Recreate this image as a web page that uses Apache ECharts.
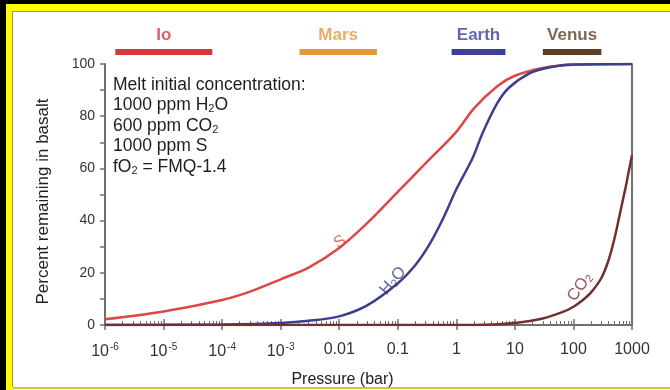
<!DOCTYPE html>
<html><head><meta charset="utf-8">
<script src="https://cdn.jsdelivr.net/npm/echarts@6/dist/echarts.min.js"></script>
<style>html,body{margin:0;padding:0;background:#fff}#c{width:670px;height:390px}</style>
</head><body><div id="c"></div>
<script>
// ---- data ----
const pressureS = [1e-6, 1e-5, 1e-4, 3e-4, 1e-3, 0.003, 0.01, 0.03, 0.1, 0.3, 1, 2, 5, 10, 30, 100, 1000];
const valuesS   = [2.2, 5.2, 9.6, 12.8, 17.5, 22, 29.5, 39, 51, 62, 74, 83, 91.5, 95.5, 98.5, 99.7, 100];

const pressureH2O = [1e-6, 1e-5, 1e-4, 1e-3, 0.003, 0.01, 0.03, 0.1, 0.2, 0.35, 0.6, 1, 1.9, 2.8, 5, 8, 18, 35, 90, 1000];
const valuesH2O   = [0, 0.05, 0.2, 0.8, 1.6, 3.3, 7.5, 16, 23, 31, 41, 52, 64, 73.5, 85, 91, 96.5, 98.5, 99.8, 100];

const pressureCO2 = [1e-6, 1e-3, 1, 3, 10, 30, 66, 100, 145, 200, 300, 400, 500, 600, 700, 800, 900, 1000];
const valuesCO2   = [0, 0, 0, 0.1, 0.8, 2.5, 5, 7, 9.6, 12.5, 18, 25, 33, 41, 48, 54, 60, 65];

const planetNames = ['Io', 'Mars', 'Earth', 'Venus'];
const planetFrom  = [1.5e-6, 2.1e-3, 0.83, 30];
const planetTo    = [6.8e-5, 0.044, 6.9, 300];

const xTickLabels = ['10^-6', '10^-5', '10^-4', '10^-3', '0.01', '0.1', '1', '10', '100', '1000'];
const yTickValues = [0, 20, 40, 60, 80, 100];

// curve label anchors [pressure, percent, text]
const curveLabels = [
  [0.0103, 31.8, '{t|S}'],
  [0.083, 16.9, '{t|H}{s|2}{t|O}'],
  [129, 14.6, '{t|CO}{s|2}']
];
const noteLines = [
  '{t|Melt initial concentration:}',
  '{t|1000 ppm H}{s|2}{t|O}',
  '{t|600 ppm CO}{s|2}',
  '{t|1000 ppm S}',
  '{t|fO}{s|2}{t| = FMQ-1.4}'
];

// ---- styles ----
const FONT = '"Liberation Sans", Arial, Helvetica, sans-serif';
const colS = '#dd4744', colH2O = '#3b3f8e', colCO2 = '#73302e';
const planetColors = ['#d9363c', '#e8963c', '#3d3f9c', '#5e3f24'];
const axisCol = '#707070';

const minorTicks = [];
for (let d = -6; d < 3; d++) for (let m = 2; m <= 9; m++) minorTicks.push(m * Math.pow(10, d));

function zip(xs, ys) { return xs.map((x, i) => [x, ys[i]]); }

const chart = echarts.init(document.getElementById('c'), null, {renderer: 'canvas'});

const lineBase = {type: 'line', xAxisIndex: 0, yAxisIndex: 0, smooth: 0.3, symbol: 'none', z: 3};
const series = [
  Object.assign({}, lineBase, {data: zip(pressureS, valuesS), lineStyle: {color: colS, width: 2.5}}),
  Object.assign({}, lineBase, {data: zip(pressureH2O, valuesH2O), lineStyle: {color: colH2O, width: 2.5}}),
  Object.assign({}, lineBase, {data: zip(pressureCO2, valuesCO2), lineStyle: {color: colCO2, width: 2.5}}),
  {type: 'scatter', xAxisIndex: 0, yAxisIndex: 0, symbolSize: 0, silent: true, z: 5,
   data: curveLabels.map((c, i) => ({
     value: [c[0], c[1]],
     label: {show: true, position: 'inside', formatter: c[2], rotate: [32, 50, 55][i],
       rich: {t: {fontSize: 16.5, fontFamily: FONT, color: [colS, colH2O, colCO2][i]},
              s: {fontSize: 11, fontFamily: FONT, color: [colS, colH2O, colCO2][i], padding: [7, 0, 0, 0]}}}
   }))}
];
planetNames.forEach((n, i) => {
  series.push({type: 'line', xAxisIndex: 3, yAxisIndex: 2, symbol: 'none', silent: true,
    data: [[planetFrom[i], 0.5], [planetTo[i], 0.5]],
    lineStyle: {color: planetColors[i], width: 6, cap: 'butt'}});
  series.push({type: 'scatter', xAxisIndex: 3, yAxisIndex: 2, symbolSize: 0, silent: true,
    data: [[Math.sqrt(planetFrom[i] * planetTo[i]), 0.5]],
    label: {show: true, position: 'top', distance: 8, formatter: n,
      fontSize: 17, fontFamily: FONT, color: planetColors[i], fontWeight: 'bold'}});
});

const option = {
  backgroundColor: '#ffffff',
  animation: false,
  grid: [
    {left: 105, right: 38, top: 64, bottom: 65, outerBoundsMode: 'none', containLabel: false},
    {left: 105, right: 38, top: 40, height: 24, outerBoundsMode: 'none', containLabel: false}
  ],
  xAxis: [
    {type: 'log', logBase: 10, min: 1e-6, max: 1000, splitNumber: 10, gridIndex: 0, position: 'bottom',
     name: 'Pressure (bar)', nameLocation: 'middle', nameGap: 47,
     nameTextStyle: {fontSize: 16, fontFamily: FONT, color: '#222', padding: [0, 52, 0, 0]},
     axisLine: {show: true, lineStyle: {color: axisCol, width: 2}},
     axisTick: {show: true, inside: true, length: 6, lineStyle: {color: axisCol, width: 1.5}},
     splitLine: {show: false}, minorTick: {show: false},
     axisLabel: {margin: 17, color: '#333',
       formatter: v => {
         const s = xTickLabels[Math.round(Math.log10(v)) + 6] || '';
         const p = s.split('^');
         return p.length > 1 ? '{b|' + p[0] + '}{e|' + p[1] + '}' : '{b|' + s + '}';
       },
       rich: {b: {fontSize: 16, fontFamily: FONT, color: '#333'},
              e: {fontSize: 10, fontFamily: FONT, color: '#333', padding: [0, 0, 10, 1]}}}},
    {type: 'log', logBase: 10, min: 1e-6, max: 1000, splitNumber: 10, gridIndex: 0, position: 'top',
     axisLine: {show: true, lineStyle: {color: axisCol, width: 2}},
     axisTick: {show: true, inside: true, length: 5, lineStyle: {color: axisCol, width: 1.5}},
     axisLabel: {show: false}, splitLine: {show: false}},
    {type: 'log', logBase: 10, min: 1e-6, max: 1000, gridIndex: 0, position: 'bottom',
     axisLine: {show: false},
     axisTick: {show: true, inside: true, length: 4, customValues: minorTicks,
       lineStyle: {color: axisCol, width: 1}},
     axisLabel: {show: false}, splitLine: {show: false}},
    {type: 'log', logBase: 10, min: 1e-6, max: 1000, gridIndex: 1, show: false}
  ],
  yAxis: [
    {type: 'value', min: 0, max: 100, interval: 20, gridIndex: 0, position: 'left',
     name: 'Percent remaining in basalt', nameLocation: 'middle', nameGap: 53,
     nameTextStyle: {fontSize: 17, fontFamily: FONT, color: '#222', padding: [0, 14, 0, 0]},
     axisLine: {show: true, lineStyle: {color: axisCol, width: 2}},
     axisTick: {show: true, inside: false, length: 5, lineStyle: {color: axisCol, width: 1.5}},
     minorTick: {show: true, splitNumber: 2, length: 5, lineStyle: {color: axisCol, width: 1.5}},
     axisLabel: {margin: 10, fontSize: 14, fontFamily: FONT, color: '#333',
       formatter: v => yTickValues.indexOf(v) >= 0 ? String(v) : ''},
     splitLine: {show: false}},
    {type: 'value', min: 0, max: 100, gridIndex: 0, position: 'right',
     axisLine: {show: true, lineStyle: {color: axisCol, width: 2}},
     axisTick: {show: false}, axisLabel: {show: false}, splitLine: {show: false}},
    {type: 'value', min: 0, max: 1, gridIndex: 1, show: false}
  ],
  graphic: [
    {type: 'rect', shape: {x: 0, y: 0, width: 670, height: 4}, style: {fill: '#000'}, silent: true},
    {type: 'rect', shape: {x: 0, y: 0, width: 6, height: 390}, style: {fill: '#000'}, silent: true},
    {type: 'rect', shape: {x: 6, y: 4, width: 664, height: 7}, style: {fill: '#ffff00'}, silent: true},
    {type: 'rect', shape: {x: 6, y: 4, width: 7, height: 386}, style: {fill: '#ffff00'}, silent: true},
    {type: 'rect', shape: {x: 13, y: 11, width: 657, height: 1}, style: {fill: '#9c9c30'}, silent: true},
    {type: 'rect', shape: {x: 12, y: 11, width: 1, height: 376}, style: {fill: '#9c9c30'}, silent: true},
    {type: 'rect', shape: {x: 13, y: 387, width: 657, height: 2}, style: {fill: '#c8c83a'}, silent: true},
    {type: 'text', left: 113, top: 76, silent: true,
     style: {text: noteLines.join('\n'),
       rich: {t: {fontSize: 17.5, fontFamily: FONT, fill: '#1e1e1e', lineHeight: 20.5},
              s: {fontSize: 11, fontFamily: FONT, fill: '#1e1e1e', lineHeight: 20.5, padding: [7, 0, 0, 0]}}}}
  ],
  series: series
};
chart.setOption(option);
</script>
</body></html>
